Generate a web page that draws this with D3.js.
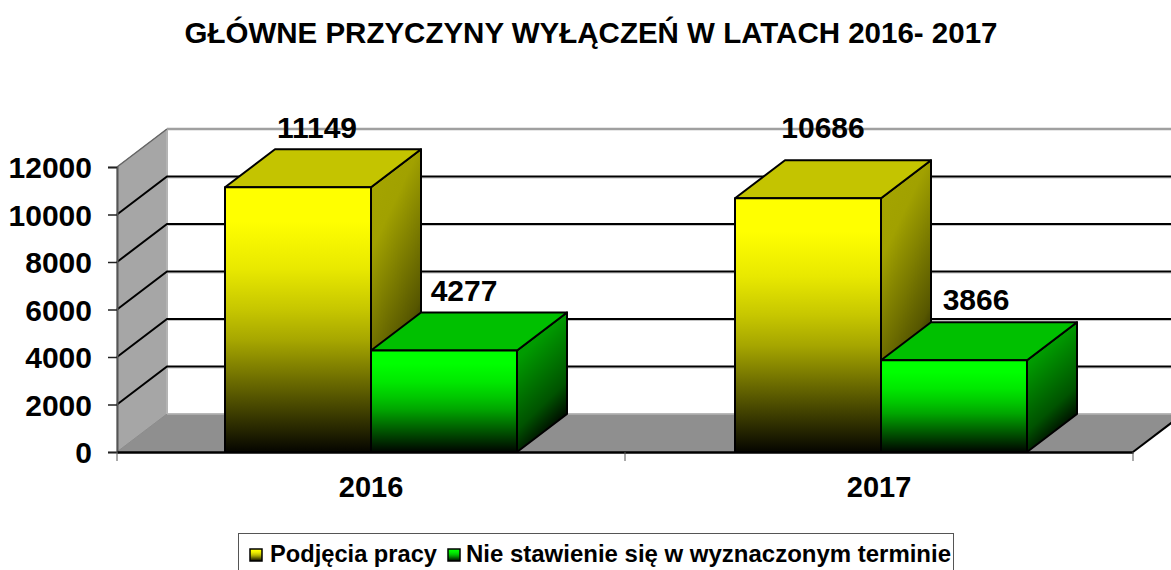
<!DOCTYPE html>
<html lang="pl"><head><meta charset="utf-8">
<script src="https://cdn.jsdelivr.net/npm/d3@7"></script>
<style>html,body{margin:0;padding:0;background:#fff;overflow:hidden}
text{font-family:"Liberation Sans",Arial,sans-serif;font-weight:bold;fill:#000}</style>
</head><body><div id="c"></div>
<script>
const title = "GŁÓWNE PRZYCZYNY WYŁĄCZEŃ W LATACH 2016- 2017";
const categories = ["2016","2017"];
const seriesNames = ["Podjęcia pracy","Nie stawienie się w wyznaczonym terminie"];
const podjecia = [11149,10686];
const nieStawienie = [4277,3866];
const yTicks = [0,2000,4000,6000,8000,10000,12000];

const W=1171,H=570,dx=50,dy=-38;
const labelNudge=[[[19,-11],[20,-11]],[[15,-22],[22,-12]]]; // [category][series] = label offset from bar
const svg=d3.select("#c").append("svg").attr("width",W).attr("height",H).style("display","block");
const y=d3.scaleLinear().domain([0,12000]).range([452,167]);
const x0=d3.scaleBand().domain(categories).range([117,1133]);
const xBars=d3.scaleBand().domain(categories).range([117,1137]);
const x1=d3.scaleBand().domain(seriesNames).range([108,400]);
const poly=(pts)=>pts.map(p=>p.join(",")).join(" ");

const defs=svg.append("defs");
function shade(c,k){const r=d3.rgb(c);return d3.rgb(r.r*k,r.g*k,r.b*k).formatHex();}
function grad(id,x2,y2,base,stops){
  const g=defs.append("linearGradient").attr("id",id).attr("x1",0).attr("y1",0).attr("x2",x2).attr("y2",y2);
  stops.forEach(s=>g.append("stop").attr("offset",s[0]).attr("stop-color",shade(base,s[1])));
}
const styles=[
 {front:"fy",side:"sy",top:"#c4c400",fc:"#ffff00",sc:"#a6a600"},
 {front:"fg",side:"sg",top:"#00c000",fc:"#00ff00",sc:"#00a000"}];
styles.forEach(s=>{
  grad(s.front,0,1,s.fc,[[0,1],[0.13,1],[0.31,0.91],[0.46,0.78],[0.58,0.65],[0.8,0.32],[1,0.02]]);
  grad(s.side,0.35,1,s.sc,[[0,1],[0.3,0.97],[0.75,0.52],[1,0]]);
});

const plot=svg.append("g");
const L=x0.range()[0],R=x0.range()[1],Y0=y(0),YT=y(12000);
// walls
plot.append("polygon").attr("points",poly([[L,YT],[L+dx,YT+dy],[L+dx,Y0+dy],[L,Y0]])).attr("fill","#a6a6a6").attr("stroke","#999").attr("stroke-width",1);
plot.append("polygon").attr("points",poly([[L,Y0],[L+dx,Y0+dy],[R+dx,Y0+dy],[R,Y0]])).attr("fill","#8f8f8f").attr("stroke","#8c8c8c").attr("stroke-width",1);
plot.append("line").attr("x1",L+dx).attr("x2",W).attr("y1",YT+dy).attr("y2",YT+dy).attr("stroke","#a0a0a0").attr("stroke-width",2.5);
plot.append("line").attr("x1",L+dx).attr("x2",L+dx).attr("y1",YT+dy).attr("y2",Y0+dy).attr("stroke","#b4b4b4").attr("stroke-width",2);
plot.append("line").attr("x1",L+dx).attr("x2",W).attr("y1",Y0+dy).attr("y2",Y0+dy).attr("stroke","#b4b4b4").attr("stroke-width",1.5);
// gridlines with their soft grey underline
yTicks.filter(t=>t>0&&t<12000).forEach(t=>{
  plot.append("line").attr("x1",L+dx).attr("x2",W).attr("y1",y(t)+dy+1.5).attr("y2",y(t)+dy+1.5).attr("stroke","#c4c4c4").attr("stroke-width",1);
  plot.append("polyline").attr("fill","none").attr("stroke","#000").attr("stroke-width",2)
   .attr("points",poly([[L,y(t)],[L+dx,y(t)+dy],[W,y(t)+dy]]));
});
plot.append("line").attr("x1",L).attr("y1",YT).attr("x2",L+dx).attr("y2",YT+dy).attr("stroke","#666").attr("stroke-width",1.5);
plot.append("line").attr("x1",R).attr("y1",Y0).attr("x2",R+dx).attr("y2",Y0+dy).attr("stroke","#000").attr("stroke-width",2);

// bars
const seriesValues=[podjecia,nieStawienie];
categories.forEach((c,ci)=>{
  seriesNames.forEach((s,si)=>{
    const v=seriesValues[si][ci],st=styles[si];
    const a=xBars(c)+x1(s),b=a+x1.bandwidth(),t=y(v);
    const g=plot.append("g").attr("stroke","#000").attr("stroke-width",2).attr("stroke-linejoin","round");
    g.append("polygon").attr("points",poly([[b,t],[b+dx,t+dy],[b+dx,Y0+dy],[b,Y0]])).attr("fill",`url(#${st.side})`);
    g.append("polygon").attr("points",poly([[a,t],[a+dx,t+dy],[b+dx,t+dy],[b,t]])).attr("fill",st.top);
    g.append("polygon").attr("points",poly([[a,t],[b,t],[b,Y0],[a,Y0]])).attr("fill",`url(#${st.front})`);
  });
});
// value labels
categories.forEach((c,ci)=>seriesNames.forEach((s,si)=>{
  const v=seriesValues[si][ci],n=labelNudge[ci][si];
  svg.append("text").attr("x",xBars(c)+x1(s)+x1.bandwidth()/2+n[0]).attr("y",y(v)+dy+n[1])
    .attr("text-anchor","middle").attr("font-size",30).text(v);
}));

// axes
const yAxis=d3.axisLeft(y).tickValues(yTicks).tickSize(9).tickPadding(5).tickFormat(d=>d);
const ya=svg.append("g").attr("transform",`translate(${L},0)`).call(yAxis);
ya.select(".domain").attr("stroke","#555").attr("stroke-width",2);
ya.selectAll(".tick line").attr("stroke","#222").attr("stroke-width",1.5);
ya.selectAll("text").attr("font-size",30).attr("font-family",null).attr("fill",null).attr("dy","0.36em").attr("x",-25);
const xAxis=d3.axisBottom(x0).tickSize(0).tickPadding(24);
const xa=svg.append("g").attr("transform",`translate(0,${Y0})`).call(xAxis);
xa.select(".domain").attr("stroke","#000").attr("stroke-width",2.5);
xa.selectAll("text").attr("font-size",29).attr("font-family",null).attr("fill",null);
[L,(L+R)/2,R].forEach(p=>xa.append("line").attr("x1",p).attr("x2",p).attr("y1",0).attr("y2",9).attr("stroke","#555").attr("stroke-width",1));
// title
svg.append("text").attr("x",591).attr("y",43).attr("text-anchor","middle").attr("font-size",29.5).text(title);
// legend
svg.append("rect").attr("x",238.5).attr("y",533.5).attr("width",715).attr("height",50).attr("fill","#fff").attr("stroke","#555").attr("stroke-width",1);
const lx=[250,448],tx=[270,466],tw=[167,485];
seriesNames.forEach((s,i)=>{
  svg.append("rect").attr("x",lx[i]).attr("y",549).attr("width",12).attr("height",12).attr("fill",`url(#${styles[i].front})`).attr("stroke","#000").attr("stroke-width",1.5);
  svg.append("text").attr("x",tx[i]).attr("y",562).attr("font-size",24).attr("textLength",tw[i]).attr("lengthAdjust","spacingAndGlyphs").text(s);
});
</script></body></html>
